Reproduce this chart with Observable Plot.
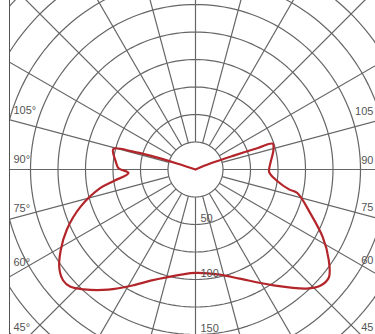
<!DOCTYPE html>
<html>
<head>
<meta charset="utf-8">
<script src="https://cdn.jsdelivr.net/npm/d3@7"></script>
<script src="https://cdn.jsdelivr.net/npm/@observablehq/plot@0.6"></script>
<style>
  html, body { margin: 0; padding: 0; background: #fff; }
  #chart svg { display: block; }
</style>
</head>
<body>
<div id="chart"></div>
<script>
// Luminous intensity (polar) — gamma angle measured from nadir (degrees)
const gammaLeft     = [0, 7, 22, 28, 36, 43, 47, 50, 54, 59, 65, 72, 79, 82, 87, 91, 96, 104, 106, 107, 108, 110];
const intensityLeft = [94, 96, 109, 119, 135, 149, 156, 157, 153, 143, 129, 110, 88, 75, 61, 70, 73, 77, 59, 43, 17, 0];
const gammaRight     = [0, 13, 22, 34, 43, 47, 51, 56, 62, 69, 77, 78, 82, 88, 94, 104, 108.5, 109, 110, 112, 113];
const intensityRight = [94, 98, 107, 127, 148, 155, 156, 146, 131, 112, 95, 87, 75, 67, 68, 73, 74, 60, 37, 15, 0];

// Grid
const ringValues = [25, 50, 75, 100, 125, 150, 175, 200, 225, 250];
const spokeAngles = d3.range(0, 360, 15);
const radialLabels = [50, 100, 150];
const angleLabels = [105, 90, 75, 60, 45];

const rad = (deg) => deg * Math.PI / 180;

// Curve: left half from the centre down to nadir, then right half back up
const curve = [
  ...gammaLeft.map((g, i) => ({g, I: intensityLeft[i], side: -1})).reverse(),
  ...gammaRight.slice(1).map((g, i) => ({g, I: intensityRight[i + 1], side: 1}))
];

const ringPts = ringValues.flatMap(r => d3.range(0, 361, 2).map(a => ({r, a})));

const px = d => d.side * d.I * Math.sin(rad(d.g));
const py = d => -d.I * Math.cos(rad(d.g));

const edgeL = -165.5, edgeR = 161.8;
const labelY = (edge, a) => Math.max(-144, -Math.abs(edge) / Math.tan(rad(a + 3)));

const chart = Plot.plot({
  width: 375,
  height: 334,
  marginLeft: 9,
  marginRight: 0,
  marginTop: 0,
  marginBottom: 0,
  style: {background: "#fff", fontFamily: "'Liberation Sans', Arial, sans-serif"},
  x: {domain: [-169.09, 163.64], axis: null},
  y: {domain: [-150, 153.64], axis: null},
  marks: [
    Plot.line(ringPts, {
      x: d => d.r * Math.sin(rad(d.a)), y: d => -d.r * Math.cos(rad(d.a)),
      z: "r", stroke: "#666", strokeWidth: 1.2, clip: true
    }),
    Plot.link(spokeAngles, {
      x1: a => 25 * Math.sin(rad(a)), y1: a => -25 * Math.cos(rad(a)),
      x2: a => 300 * Math.sin(rad(a)), y2: a => -300 * Math.cos(rad(a)),
      stroke: "#666", strokeWidth: 1.2, clip: true
    }),
    Plot.line(curve, {
      x: px, y: py, stroke: "#b3252a", strokeWidth: 2.2,
      curve: "catmull-rom", clip: true
    }),
    Plot.text(radialLabels, {
      x: 0, y: r => -r, text: r => String(r), dx: 5, dy: -6,
      textAnchor: "start", fill: "#555", fontSize: 11
    }),
    Plot.text(angleLabels, {
      x: edgeL, y: a => labelY(edgeL, a),
      text: a => `${a}°`, textAnchor: "start", fill: "#555", fontSize: 11
    }),
    Plot.text(angleLabels, {
      x: edgeR, y: a => labelY(edgeR, a),
      text: a => String(a), textAnchor: "end", fill: "#555", fontSize: 11
    }),
    Plot.frame({anchor: "left", stroke: "#555"})
  ]
});

document.getElementById("chart").appendChild(chart);
</script>
</body>
</html>
